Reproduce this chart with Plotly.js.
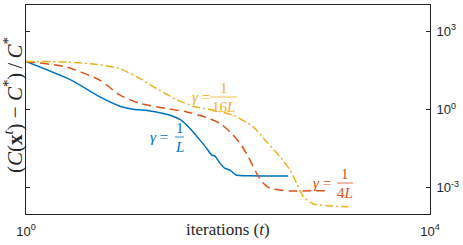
<!DOCTYPE html>
<html>
<head>
<meta charset="utf-8">
<script src="https://cdn.plot.ly/plotly-3.0.1.min.js"></script>
<style>html,body{margin:0;padding:0;background:#fff;}#chart{width:463px;height:245px;}</style>
</head>
<body>
<div id="chart"></div>
<script>
// gamma = 1/L
const blueX = [1, 2.83, 5.4, 8.5, 11.5, 16.9, 24.7, 33.5, 42, 52.8, 61.5, 69, 74.3, 83.4, 93.3, 104.7, 120, 165, 395];
const blueY = [69.2, 13.1, 3.03, 1.34, 1.03, 0.885, 0.662, 0.415, 0.188, 0.0673, 0.0324, 0.018, 0.0165, 0.00867, 0.0056, 0.00482, 0.0031, 0.00292, 0.00284];
// gamma = 1/(4L)
const redX = [1, 2.53, 5.41, 8.53, 13.5, 24.7, 39.0, 61.5, 83.4, 104.7, 131.5, 158.9, 192.3, 223.9, 260.6, 411, 700, 912];
const redY = [69.2, 42.3, 13.1, 3.52, 1.69, 1.09, 0.809, 0.495, 0.292, 0.14, 0.0504, 0.0155, 0.00361, 0.0015, 0.000966, 0.000762, 0.000782, 0.000782];
// gamma = 1/(16L)
const yelX = [1, 2.53, 5.01, 8.53, 13.5, 19.7, 31.0, 45.3, 71.6, 112.7, 177.8, 241.5, 327.3, 411, 478.6, 557.2, 700, 1023, 1552];
const yelY = [69.2, 65.0, 53.1, 36.4, 15.1, 6.28, 2.39, 1.34, 0.94, 0.605, 0.217, 0.058, 0.0155, 0.00482, 0.0015, 0.000461, 0.000243, 0.000204, 0.000191];

const xTickVals = [1, 10000];
const xTickText = ['10<sup>0</sup>', '10<sup>4</sup>'];
const yTickVals = [0.001, 1, 1000];
const yTickText = ['10<sup>-3</sup>', '10<sup>0</sup>', '10<sup>3</sup>'];

const cBlue = '#0072BD', cRed = '#D95319', cYel = '#EDB120';
const serif = 'Times New Roman';

const traces = [
  {x: blueX, y: blueY, mode: 'lines', line: {color: cBlue, width: 1.5, shape: 'spline', smoothing: 0.6}},
  {x: redX, y: redY, mode: 'lines', line: {color: cRed, width: 1.5, dash: '9px,5px', shape: 'spline', smoothing: 0.6}},
  {x: yelX, y: yelY, mode: 'lines', line: {color: cYel, width: 1.5, dash: '8px,3px,2px,3px', shape: 'spline', smoothing: 0.6}}
];

function px2x(p) { return (p - 26) / 404; }
function px2y(p) { return (214 - p) / 209; }

const ann = [];
const shapes = [];
function frac(eqX, eqY, barX0, barX1, den, color) {
  ann.push({xref: 'paper', yref: 'paper', x: px2x(eqX), y: px2y(eqY), text: '<i>γ</i> =', showarrow: false,
    font: {family: serif, size: 15, color: color}, xanchor: 'center', yanchor: 'middle'});
  const cx = (barX0 + barX1) / 2;
  ann.push({xref: 'paper', yref: 'paper', x: px2x(cx), y: px2y(eqY - 9), text: '1', showarrow: false,
    font: {family: serif, size: 15, color: color}, xanchor: 'center', yanchor: 'middle'});
  ann.push({xref: 'paper', yref: 'paper', x: px2x(cx), y: px2y(eqY + 10), text: den, showarrow: false,
    font: {family: serif, size: 15, color: color}, xanchor: 'center', yanchor: 'middle'});
  shapes.push({type: 'line', xref: 'paper', yref: 'paper', x0: px2x(barX0), x1: px2x(barX1), y0: px2y(eqY), y1: px2y(eqY),
    line: {color: color, width: 0.8}});
}
frac(201, 97, 210, 237, '16<i>L</i>', cYel);
frac(159, 137, 175, 184, '<i>L</i>', cBlue);
frac(322, 183, 337, 353, '4<i>L</i>', cRed);

ann.push({xref: 'paper', yref: 'paper', x: px2x(13), y: px2y(105), textangle: -90, showarrow: false,
  text: '(<i>C</i>(<b>x</b><sup><i>t</i></sup>)\u00a0\u2212\u00a0<i>C</i><sup>*</sup>)\u2009/\u2009<i>C</i><sup>*</sup>',
  font: {family: serif, size: 21, color: '#262626'}, xanchor: 'center', yanchor: 'middle'});
ann.push({xref: 'paper', yref: 'paper', x: px2x(228), y: px2y(229), showarrow: false,
  text: 'iterations (<i>t</i>)',
  font: {family: serif, size: 17, color: '#262626'}, xanchor: 'center', yanchor: 'middle'});

const layout = {
  width: 463, height: 245,
  margin: {l: 26, r: 33, t: 5, b: 31},
  paper_bgcolor: '#fff', plot_bgcolor: '#fff',
  showlegend: false,
  xaxis: {type: 'log', range: [0, 4], tickvals: xTickVals, ticktext: xTickText, ticks: '',
    showgrid: false, zeroline: false, showline: true, mirror: true, linecolor: '#262626', linewidth: 1,
    ticklabelstandoff: 5,
    tickfont: {family: 'Arial', size: 13, color: '#262626'}},
  yaxis: {type: 'log', range: [-4, 4], side: 'right', tickvals: yTickVals, ticktext: yTickText,
    ticks: 'inside', ticklen: 4, tickcolor: '#262626', mirror: 'ticks',
    showgrid: false, zeroline: false, showline: true, linecolor: '#262626', linewidth: 1,
    ticklabelstandoff: 3,
    tickfont: {family: 'Arial', size: 13, color: '#262626'}},
  annotations: ann,
  shapes: shapes
};

Plotly.newPlot('chart', traces, layout, {displayModeBar: false, staticPlot: true});
</script>
</body>
</html>
